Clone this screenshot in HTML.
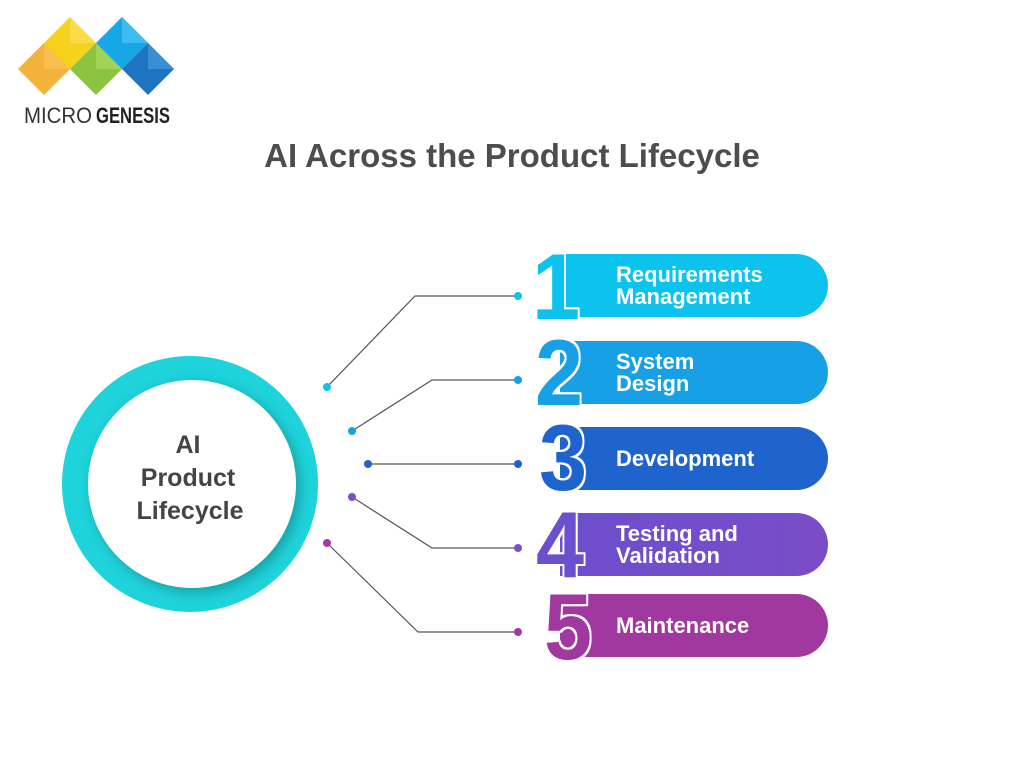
<!DOCTYPE html>
<html><head><meta charset="utf-8"><style>
body{margin:0;width:1024px;height:761px;background:#fff;overflow:hidden;position:relative;font-family:"Liberation Sans",sans-serif}
.t{position:absolute;left:0;width:1024px;top:137px;text-align:center;font-size:33px;font-weight:bold;color:#4d4d4d}
.bar{position:absolute;left:560px;width:268px;height:63px;border-radius:0 32px 32px 0;color:#fff;font-weight:bold;font-size:22px;line-height:22px;box-sizing:border-box;padding-left:56px;display:flex;align-items:center}
.n{position:absolute;font-weight:bold;font-size:94px;line-height:1;transform:scaleX(0.92);transform-origin:left top;text-shadow:2px 0 #fff,-2px 0 #fff,0 2px #fff,0 -2px #fff,2px 2px #fff,-2px -2px #fff,2px -2px #fff,-2px 2px #fff}
</style></head><body>
<svg width="1024" height="761" style="position:absolute;left:0;top:0">
<g>
<polygon points="70,17 96,43 70,69 44,43" fill="#f6d21c"/>
<polygon points="70,17 96,43 70,43" fill="#f9dc4a"/>
<polygon points="44,43 70,69 44,95 18,69" fill="#f5b23a"/>
<polygon points="44,43 70,69 44,69" fill="#f8bf4e"/>
<polygon points="96,43 122,69 96,95 70,69" fill="#8cc43f"/>
<polygon points="96,43 122,69 96,69" fill="#a2d257"/>
<polygon points="122,17 148,43 122,69 96,43" fill="#17a7e6"/>
<polygon points="122,17 148,43 122,43" fill="#3cbcf0"/>
<polygon points="148,43 174,69 148,95 122,69" fill="#1f74c2"/>
<polygon points="148,43 174,69 148,69" fill="#3b8dd6"/>
</g>
<text x="24" y="123" font-family="Liberation Sans" font-size="22" fill="#333" textLength="68" lengthAdjust="spacingAndGlyphs">MICRO</text>
<text x="96" y="123" font-family="Liberation Sans" font-weight="bold" font-size="22" fill="#222" textLength="74" lengthAdjust="spacingAndGlyphs">GENESIS</text>
<g fill="none" stroke="#555" stroke-width="1.2">
<polyline points="327,387 415,296 518,296"/>
<polyline points="352,431 432,380 518,380"/>
<polyline points="368,464 518,464"/>
<polyline points="352,497 432,548 518,548"/>
<polyline points="327,543 418,632 518,632"/>
</g>
<g>
<circle cx="327" cy="387" r="4" fill="#12c3e6"/><circle cx="518" cy="296" r="4" fill="#12c3e6"/>
<circle cx="352" cy="431" r="4" fill="#18a0e4"/><circle cx="518" cy="380" r="4" fill="#18a0e4"/>
<circle cx="368" cy="464" r="4" fill="#1f63c9"/><circle cx="518" cy="464" r="4" fill="#1f63c9"/>
<circle cx="352" cy="497" r="4" fill="#7a4fcb"/><circle cx="518" cy="548" r="4" fill="#7a4fcb"/>
<circle cx="327" cy="543" r="4" fill="#a23c9f"/><circle cx="518" cy="632" r="4" fill="#a23c9f"/>
</g>
<circle cx="190" cy="484" r="128" fill="#1fd3db"/>
<circle cx="192" cy="484" r="104" fill="#fff" style="filter:drop-shadow(4px 4px 6px rgba(0,0,0,.25))"/>
<text font-family="Liberation Sans" font-weight="bold" font-size="25" fill="#444" text-anchor="middle"><tspan x="188" y="453">AI</tspan><tspan x="188" y="486">Product</tspan><tspan x="190" y="519">Lifecycle</tspan></text>
</svg>
<div class="t">AI Across the Product Lifecycle</div>
<div class="bar" style="top:254px;left:566px;width:262px;background:#0bc3ec;padding-left:50px">Requirements<br>Management</div>
<div class="n" style="left:532px;top:240px;color:#0bc3ec">1</div>
<div class="bar" style="top:341px;background:#18a0e6">System<br>Design</div>
<div class="n" style="left:535px;top:326px;color:#18a0e6">2</div>
<div class="bar" style="top:427px;background:#1f63cc">Development</div>
<div class="n" style="left:539px;top:411px;color:#1f63cc">3</div>
<div class="bar" style="top:513px;background:linear-gradient(90deg,#6c4fcc,#7b4cc8)">Testing and<br>Validation</div>
<div class="n" style="left:536px;top:498px;color:#6c4fcc">4</div>
<div class="bar" style="top:594px;background:#a1389f">Maintenance</div>
<div class="n" style="left:544px;top:580px;color:#a1389f">5</div>
</body></html>
